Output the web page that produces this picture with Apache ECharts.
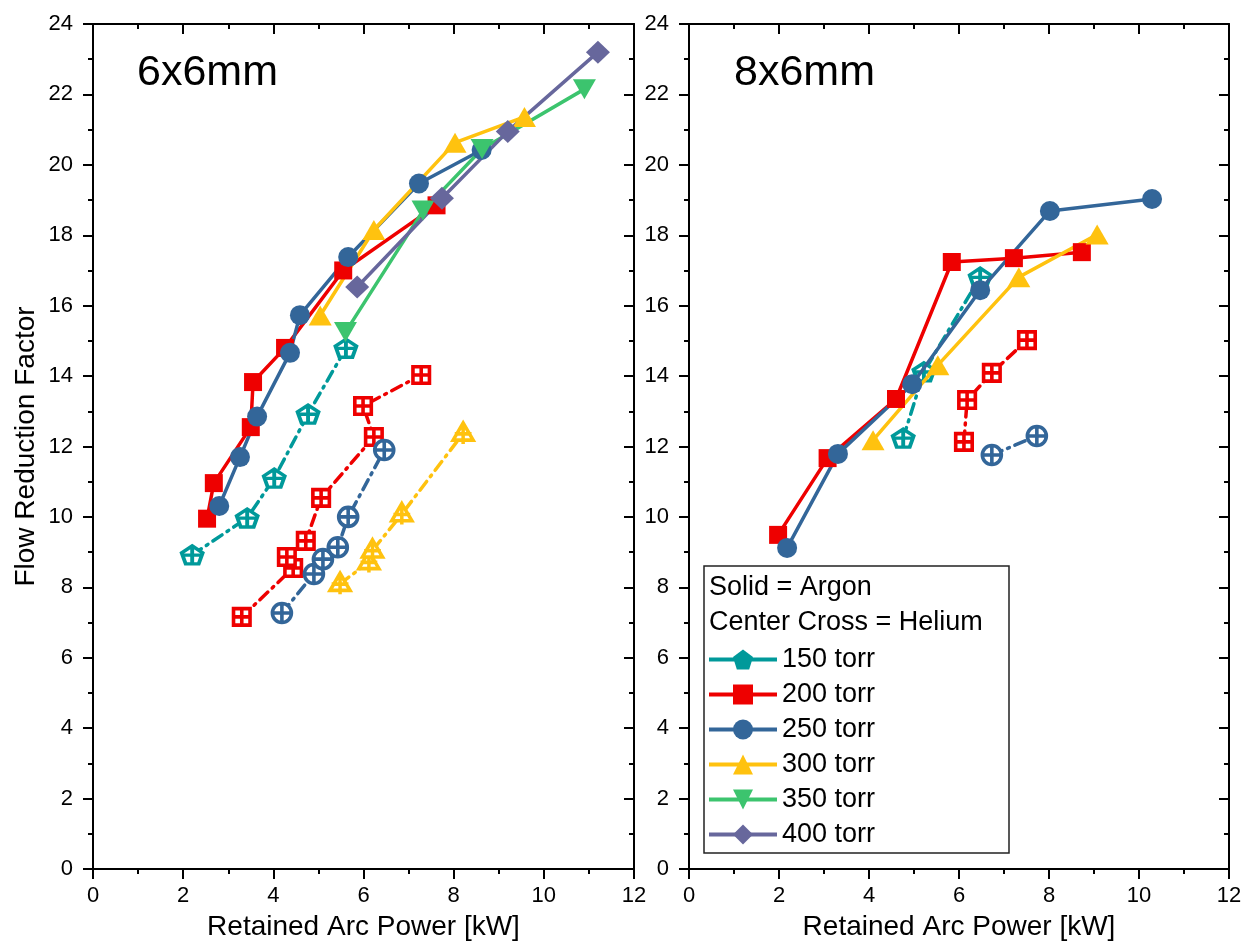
<!DOCTYPE html>
<html><head><meta charset="utf-8">
<script src="https://cdn.jsdelivr.net/npm/echarts@6/dist/echarts.min.js"></script>
<style>html,body{margin:0;padding:0;background:#fff}#c{width:1249px;height:944px}</style>
</head><body><div id="c"></div><script>
// ---- axis ranges / ticks ----
const X_MIN = 0, X_MAX = 12, X_STEP = 2;
const Y_MIN = 0, Y_MAX = 24, Y_STEP = 2;
const panelTitles = ['6x6mm', '8x6mm'];
const xName = 'Retained Arc Power [kW]';
const yName = 'Flow Reduction Factor';
const legendNames = ['150 torr', '200 torr', '250 torr', '300 torr', '350 torr', '400 torr'];
const legendHeader = ['Solid = Argon', 'Center Cross = Helium'];

// ---- 6x6mm panel: Argon (solid) ----
const a6_200 = [[2.53, 9.95], [2.68, 10.96], [3.50, 12.55], [3.55, 13.83], [4.26, 14.80], [5.55, 17.0], [7.62, 18.85]];
const a6_250 = [[2.80, 10.31], [3.26, 11.70], [3.64, 12.85], [4.37, 14.66], [4.59, 15.73], [5.66, 17.38], [7.23, 19.47], [8.62, 20.42]];
const a6_300 = [[5.04, 15.72], [6.23, 18.15], [8.03, 20.63], [9.57, 21.36]];
const a6_350 = [[5.60, 15.25], [7.32, 18.70], [8.63, 20.45], [10.90, 22.15]];
const a6_400 = [[5.86, 16.53], [7.74, 19.05], [9.20, 20.95], [11.20, 23.20]];
// ---- 6x6mm panel: Helium (center cross) ----
const h6_150 = [[2.20, 8.92], [3.42, 9.97], [4.02, 11.10], [4.77, 12.92], [5.61, 14.79]];
const h6_200 = [[3.30, 7.16], [4.44, 8.55], [4.30, 8.86], [4.72, 9.32], [5.06, 10.54], [6.23, 12.27], [5.99, 13.15], [7.28, 14.03]];
const h6_250 = [[4.19, 7.27], [4.90, 8.38], [5.10, 8.80], [5.43, 9.14], [5.66, 10.00], [6.46, 11.90]];
const h6_300 = [[5.48, 8.10], [6.12, 8.72], [6.20, 9.05], [6.85, 10.08], [8.21, 12.37]];

// ---- 8x6mm panel: Argon ----
const a8_200 = [[1.98, 9.49], [3.08, 11.67], [4.60, 13.35], [5.84, 17.24], [7.22, 17.35], [8.73, 17.52]];
const a8_250 = [[2.18, 9.12], [3.31, 11.79], [4.96, 13.77], [6.47, 16.44], [8.02, 18.69], [10.29, 19.03]];
const a8_300 = [[4.09, 12.18], [5.53, 14.31], [7.33, 16.81], [9.07, 18.02]];
// ---- 8x6mm panel: Helium ----
const h8_150 = [[4.76, 12.24], [5.22, 14.12], [6.47, 16.81]];
const h8_200 = [[6.11, 12.13], [6.18, 13.32], [6.73, 14.09], [7.51, 15.02]];
const h8_250 = [[6.73, 11.76], [7.73, 12.30]];

// 150 torr argon: no points measured (appears only in legend)
const a_150 = [];

// ---- styles ----
const FONT = '"Liberation Sans", Arial, sans-serif';
const COL = { t150: '#00999A', t200: '#EE0000', t250: '#336699', t300: '#FFC20F', t350: '#3CC46E', t400: '#67679C' };
const SYM = {
  pent: 'path://M50,0L97.6,34.5L79.4,90.5L20.6,90.5L2.4,34.5Z',
  pentX: 'path://M50,0L97.6,34.5L79.4,90.5L20.6,90.5L2.4,34.5Z M50,0L50,90.5 M6,46L94,46',
  rectX: 'path://M0,0L100,0L100,100L0,100Z M50,0L50,100 M0,50L100,50',
  circX: 'path://M0,50A50 50 0 1 1 100,50A50 50 0 1 1 0,50Z M50,0L50,100 M0,50L100,50',
  triX: 'path://M50,0L100,86.6L0,86.6Z M50,0L50,106 M8,55L92,55',
  triDown: 'path://M0,0L100,0L50,86.6Z'
};

function solid(name, data, panel, symbol, size, color) {
  return {
    type: 'line', name, data, xAxisIndex: panel * 2, yAxisIndex: panel * 2,
    symbol, symbolSize: size, showSymbol: true,
    lineStyle: { color, width: 3.5, type: 'solid' },
    itemStyle: { color, borderWidth: 0 },
    emphasis: { disabled: true }, animation: false, z: 3
  };
}
function helium(name, data, panel, symbol, size, color) {
  return {
    type: 'line', name, data, xAxisIndex: panel * 2, yAxisIndex: panel * 2,
    symbol, symbolSize: size, showSymbol: true,
    lineStyle: { color, width: 3.5, type: [11, 6, 2, 6], cap: 'round' },
    itemStyle: { color: '#fff', borderColor: color, borderWidth: 3.6 },
    emphasis: { disabled: true }, animation: false, z: 2
  };
}

function xAx(gi, main) {
  return {
    type: 'value', gridIndex: gi, position: main ? 'bottom' : 'top',
    min: X_MIN, max: X_MAX, interval: X_STEP,
    axisLine: { show: true, onZero: false, lineStyle: { color: '#000', width: 2 } },
    axisTick: { show: true, inside: !main, length: 10, lineStyle: { color: '#000', width: 2 } },
    minorTick: { show: true, splitNumber: 2, length: 5, lineStyle: { color: '#000', width: 2 } },
    axisLabel: { show: main, margin: 16, fontSize: 22, color: '#000', fontFamily: FONT },
    splitLine: { show: false }, minorSplitLine: { show: false },
    name: main ? xName : '', nameLocation: 'middle', nameGap: 44, nameMoveOverlap: false,
    nameTextStyle: { fontSize: 28, color: '#000', fontFamily: FONT }
  };
}
function yAx(gi, main) {
  return {
    type: 'value', gridIndex: gi, position: main ? 'left' : 'right',
    min: Y_MIN, max: Y_MAX, interval: Y_STEP,
    axisLine: { show: true, onZero: false, lineStyle: { color: '#000', width: 2 } },
    axisTick: { show: true, inside: !main, length: 10, lineStyle: { color: '#000', width: 2 } },
    minorTick: { show: true, splitNumber: 2, length: 5, lineStyle: { color: '#000', width: 2 } },
    axisLabel: { show: main, margin: 20, fontSize: 22, color: '#000', fontFamily: FONT },
    splitLine: { show: false }, minorSplitLine: { show: false },
    name: (main && gi === 0) ? yName : '', nameLocation: 'middle', nameGap: 53, nameMoveOverlap: false,
    nameTextStyle: { fontSize: 28, color: '#000', fontFamily: FONT }
  };
}

const series = [
  // argon first so the legend takes solid icons
  solid('150 torr', a_150, 0, SYM.pent, [20, 19], COL.t150),
  solid('200 torr', a6_200, 0, 'rect', 18, COL.t200),
  solid('250 torr', a6_250, 0, 'circle', 20, COL.t250),
  solid('300 torr', a6_300, 0, 'triangle', [23, 20], COL.t300),
  solid('350 torr', a6_350, 0, SYM.triDown, [23, 20], COL.t350),
  solid('400 torr', a6_400, 0, 'diamond', [24, 23], COL.t400),
  solid('200 torr', a8_200, 1, 'rect', 18, COL.t200),
  solid('250 torr', a8_250, 1, 'circle', 20, COL.t250),
  solid('300 torr', a8_300, 1, 'triangle', [23, 20], COL.t300),
  helium('150 torr', h6_150, 0, SYM.pentX, [21, 18], COL.t150),
  helium('200 torr', h6_200, 0, SYM.rectX, 16.5, COL.t200),
  helium('250 torr', h6_250, 0, SYM.circX, 19, COL.t250),
  helium('300 torr', h6_300, 0, SYM.triX, [20, 21], COL.t300),
  helium('150 torr', h8_150, 1, SYM.pentX, [21, 18], COL.t150),
  helium('200 torr', h8_200, 1, SYM.rectX, 16.5, COL.t200),
  helium('250 torr', h8_250, 1, SYM.circX, 19, COL.t250)
];

const option = {
  backgroundColor: '#fff',
  animation: false,
  grid: [
    { left: 93, top: 24, width: 541, height: 845, outerBoundsMode: 'none' },
    { left: 689, top: 24, width: 540, height: 845, outerBoundsMode: 'none' }
  ],
  xAxis: [xAx(0, true), xAx(0, false), xAx(1, true), xAx(1, false)],
  yAxis: [yAx(0, true), yAx(0, false), yAx(1, true), yAx(1, false)],
  legend: {
    orient: 'vertical', left: 707, top: 646, padding: 0,
    itemWidth: 68, itemHeight: 25, itemGap: 8,
    lineStyle: { width: 4 },
    textStyle: { fontSize: 27, color: '#000', fontFamily: FONT },
    data: legendNames, z: 6
  },
  graphic: [
    { type: 'text', x: 137, y: 73, z: 5, style: { text: panelTitles[0], fontSize: 43, fontFamily: FONT, fill: '#000', verticalAlign: 'middle' } },
    { type: 'text', x: 734, y: 73, z: 5, style: { text: panelTitles[1], fontSize: 43, fontFamily: FONT, fill: '#000', verticalAlign: 'middle' } },
    { type: 'rect', z: 4, shape: { x: 704, y: 566, width: 305, height: 287 }, style: { fill: '#fff', stroke: '#222', lineWidth: 1.5 } },
    { type: 'text', x: 709, y: 588, z: 5, style: { text: legendHeader[0], fontSize: 27, fontFamily: FONT, fill: '#000', verticalAlign: 'middle' } },
    { type: 'text', x: 709, y: 623, z: 5, style: { text: legendHeader[1], fontSize: 27, fontFamily: FONT, fill: '#000', verticalAlign: 'middle' } }
  ],
  series
};
const chart = echarts.init(document.getElementById('c'), null, { renderer: 'canvas' });
chart.setOption(option);
</script></body></html>
